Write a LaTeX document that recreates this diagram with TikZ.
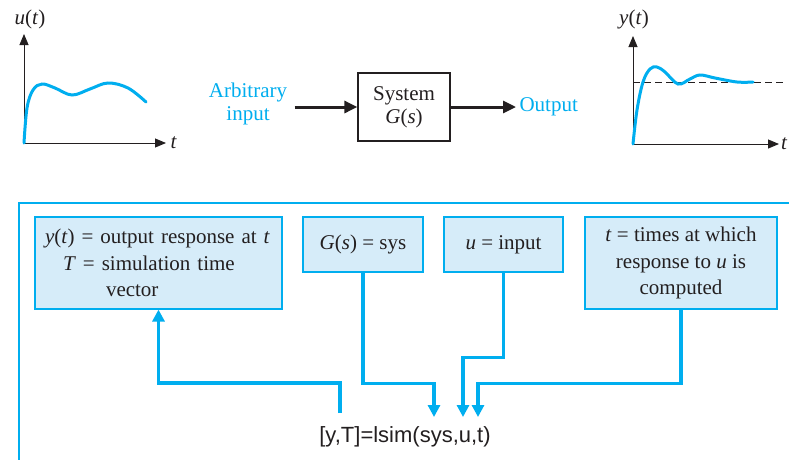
\documentclass[tikz,border=0pt]{standalone}
\usepackage{fontspec}
\setmainfont{Liberation Serif}
\newfontfamily\cmdfont{Liberation Sans}
\usetikzlibrary{arrows.meta, positioning}
\definecolor{sim-cyan}{HTML}{00AEEF}
\definecolor{box-fill}{HTML}{D6ECF9}
\definecolor{ink}{HTML}{231F20}
\tikzset{
  info-box/.style={
    draw=sim-cyan, fill=box-fill, line width=1.1pt, inner sep=0pt,
    align=center, text=ink, font=\fontsize{21}{26.5}\selectfont
  },
  sys-block/.style={
    draw=ink, line width=1.3pt, minimum width=92pt, minimum height=68pt,
    align=center, text=ink, font=\fontsize{21}{23}\selectfont
  },
  signal/.style={-{Triangle[length=13pt,width=12pt]}, line width=3pt, draw=ink},
  link/.style={-{Triangle[length=12pt,width=12pt]}, line width=3.1pt, draw=sim-cyan},
  axis/.style={-{Triangle[length=11pt,width=9pt]}, line width=0.9pt, draw=ink},
  resp-curve/.style={line width=3pt, draw=sim-cyan, line cap=round},
  cyan-text/.style={text=sim-cyan, align=center, font=\fontsize{21}{23}\selectfont},
  plot-label/.style={text=ink, font=\fontsize{21}{23}\selectfont}
}

\begin{document}
\begin{tikzpicture}[x=1pt, y=-1pt]
  \useasboundingbox (0,0) rectangle (789,459);
  \clip (0,0) rectangle (789,459);
  \fill[white] (0,0) rectangle (789,459);

  % input signal
  \coordinate (u-origin) at (24,143);
  \draw[axis] (u-origin) -- (166,143);
  \draw[axis] (u-origin) -- (24,34);
  \node[plot-label] (u-name) at (30,19) {\textit{u}(\textit{t})};
  \node[plot-label, anchor=west] (u-time) at (167,143) {\textit{t}};
  \draw[resp-curve] plot[smooth, tension=0.6] coordinates
    {(24,143) (27,108) (33,90) (42,84) (55,88) (72,95) (90,89) (108,83) (128,88) (146,102)};

  % block
  \node[cyan-text] (arb-input) at (248,104) {Arbitrary\\input};
  \node[sys-block] (system) at (404,107) {System\\\textit{G}(\textit{s})};
  \node[cyan-text, anchor=west] (output) at (516,107) {Output};
  \draw[signal, shorten <=4pt] (arb-input.east |- system.west) -- (system.west);
  \draw[signal] (system.east) -- (output.west);

  % output response
  \coordinate (y-origin) at (633,144);
  \draw[ink, dashed, dash pattern=on 7pt off 4pt, line width=0.9pt] (633,82) -- (783,82);
  \draw[axis] (y-origin) -- (779,144);
  \draw[axis] (y-origin) -- (633,36);
  \node[plot-label] (y-name) at (634,19) {\textit{y}(\textit{t})};
  \node[plot-label, anchor=west, inner sep=1pt] (y-time) at (780,144) {\textit{t}};
  \draw[resp-curve] plot[smooth, tension=0.6] coordinates
    {(633,144) (637,110) (643,82) (650,69) (657,67) (665,72) (678,84) (690,79) (700,75) (715,78) (737,82) (753,82)};

  % lsim frame
  \draw[sim-cyan, line width=1.8pt] (19,470) -- (19,203) -- (800,203);

  \node[info-box, minimum width=247pt, minimum height=92pt, align=left, text width=227pt]
    (y-box) at (158.5,263) {\textit{y}(\textit{t}) = output response at \textit{t}\\
      \hspace*{18pt}\textit{T} = simulation time\\
      \hspace*{61pt}vector};
  \node[info-box, minimum width=120pt, minimum height=55pt] (sys-box) at (363,244.5)
    {\textit{G}(\textit{s}) = sys};
  \node[info-box, minimum width=119pt, minimum height=55pt] (u-box) at (503.5,244.5)
    {\textit{u} = input};
  \node[info-box, minimum width=192pt, minimum height=92pt] (t-box) at (681,263)
    {\textit{t} = times at which\\response to \textit{u} is\\computed};

  \node[text=ink, font=\cmdfont\fontsize{22}{24}\selectfont] (lsim-cmd) at (405,437) {[y,T]=lsim(sys,u,t)};
  \coordinate (out-y) at (340,413);
  \coordinate (in-sys) at (434,417);
  \coordinate (in-u) at (463,417);
  \coordinate (in-t) at (478,417);

  \draw[link] (out-y) -- ++(0,-30) -| (y-box.south);
  \draw[link] (sys-box.south) -- ++(0,111) -| (in-sys);
  \draw[link] (u-box.south) -- ++(0,85) -| (in-u);
  \draw[link] (t-box.south) -- ++(0,74) -| (in-t);
\end{tikzpicture}
\end{document}
